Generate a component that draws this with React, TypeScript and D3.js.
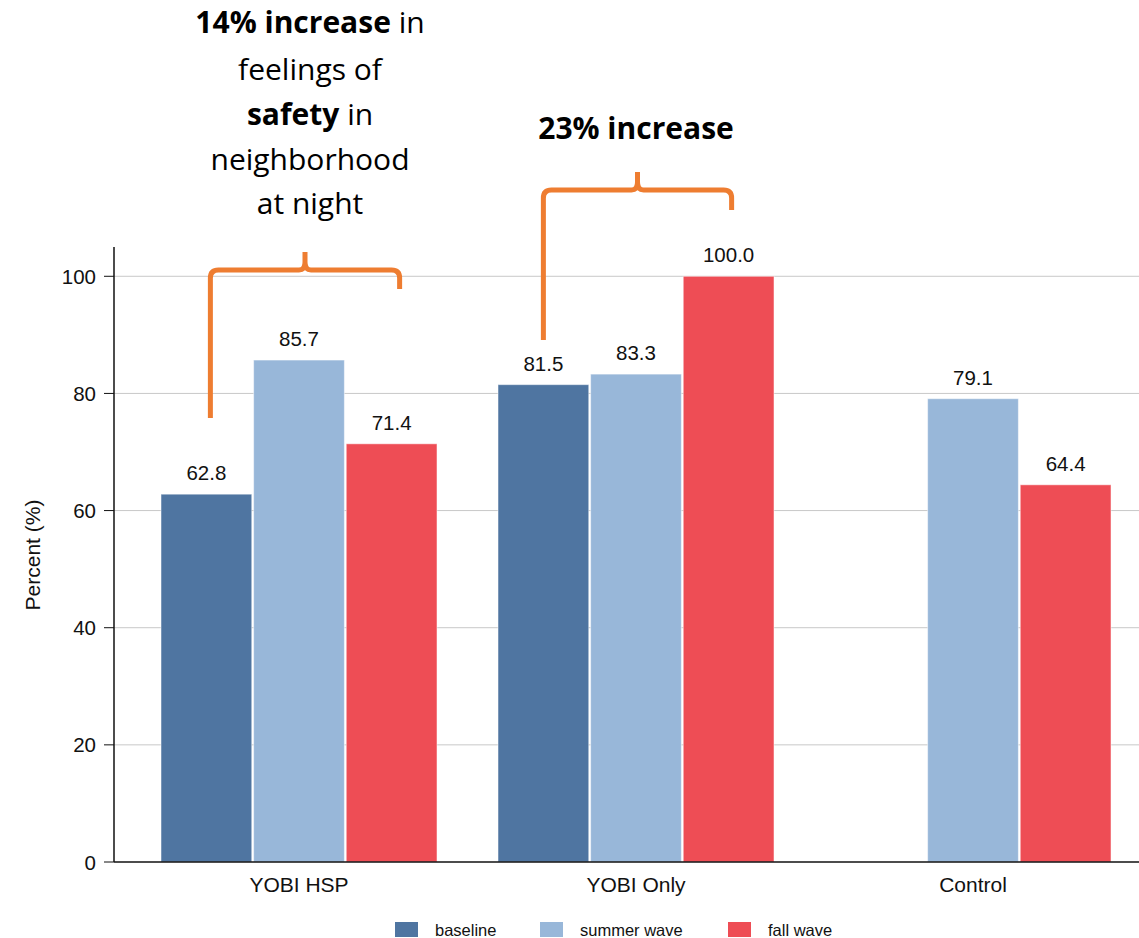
import React from "react";
import * as d3 from "d3";

const groups = ["YOBI HSP", "YOBI Only", "Control"];
const seriesNames = ["baseline", "summer wave", "fall wave"];
const baseline: (number | null)[] = [62.8, 81.5, null];
const summerWave: (number | null)[] = [85.7, 83.3, 79.1];
const fallWave: (number | null)[] = [71.4, 100.0, 64.4];
const yTicks = [0, 20, 40, 60, 80, 100];
const colors = ["#4F75A1", "#98B7D9", "#EE4D55"];

const W = 1139;
const H = 938;

export default function App() {
  const left = 114;
  const right = 1139;
  const y = d3.scaleLinear().domain([0, 105]).range([862, 247]);
  const step = 337;
  const x0 = d3
    .scaleBand<string>()
    .domain(groups)
    .range([161 - 0.181 * step, 161 - 0.181 * step + step * 3.181])
    .paddingInner(0.181)
    .paddingOuter(0.181);
  const x1 = d3
    .scaleBand<string>()
    .domain(seriesNames)
    .range([0, x0.bandwidth()])
    .paddingInner(0.02);
  const series = [baseline, summerWave, fallWave];
  const sans = "'Liberation Sans', Arial, Helvetica, sans-serif";
  const annoFont = "'Open Sans', Lato, sans-serif";
  const orange = "#EE7D31";

  const barCenter = (gi: number, si: number) =>
    (x0(groups[gi]) as number) + (x1(seriesNames[si]) as number) + x1.bandwidth() / 2;

  const brace = (xl: number, xr: number, yh: number, armBottomL: number, armBottomR: number) => {
    const xm = (xl + xr) / 2;
    const r = 8;
    return `M${xl},${armBottomL} L${xl},${yh + r} Q${xl},${yh} ${xl + r},${yh} L${xm - 6},${yh} Q${xm},${yh} ${xm},${yh - 8} L${xm},${yh - 18} M${xm},${yh - 8} Q${xm},${yh} ${xm + 6},${yh} L${xr - r},${yh} Q${xr},${yh} ${xr},${yh + r} L${xr},${armBottomR}`;
  };

  const b1L = barCenter(0, 0) + 4;
  const b1R = barCenter(0, 2) + 8;
  const b2L = barCenter(1, 0);
  const b2R = barCenter(1, 2) + 3;

  return (
    <svg width={W} height={H} style={{ position: "absolute", left: 0, top: 0, background: "#fff" }}>
      {yTicks.filter((t) => t > 0).map((t) => (
        <line key={"g" + t} x1={left} x2={right} y1={y(t)} y2={y(t)} stroke="#c8c8c8" strokeWidth={1} />
      ))}
      {groups.map((g, gi) =>
        series.map((s, si) => {
          const v = s[gi];
          if (v == null) return null;
          const bx = (x0(g) as number) + (x1(seriesNames[si]) as number);
          return (
            <g key={g + si}>
              <rect
                x={bx}
                y={y(v)}
                width={x1.bandwidth()}
                height={y(0) - y(v)}
                fill={colors[si]}
                stroke="#ffffff"
                strokeOpacity={0.5}
                strokeWidth={1}
              />
              <text
                x={bx + x1.bandwidth() / 2}
                y={y(v) - 14}
                textAnchor="middle"
                fontFamily={sans}
                fontSize={20.5}
                fill="#111"
              >
                {v.toFixed(1)}
              </text>
            </g>
          );
        })
      )}
      <line x1={left} x2={left} y1={247} y2={y(0)} stroke="#111" strokeWidth={1.5} />
      <line x1={left} x2={right} y1={y(0)} y2={y(0)} stroke="#111" strokeWidth={1.5} />
      {yTicks.map((t) => (
        <g key={"t" + t}>
          <line x1={104} x2={left} y1={y(t)} y2={y(t)} stroke="#111" strokeWidth={1} />
          <text x={96} y={y(t) + 7.5} textAnchor="end" fontFamily={sans} fontSize={20.5} fill="#111">
            {t}
          </text>
        </g>
      ))}
      {groups.map((g) => (
        <text
          key={"c" + g}
          x={(x0(g) as number) + x0.bandwidth() / 2}
          y={892}
          textAnchor="middle"
          fontFamily={sans}
          fontSize={21}
          fill="#111"
        >
          {g}
        </text>
      ))}
      <text
        transform={`translate(40,555) rotate(-90)`}
        textAnchor="middle"
        fontFamily={sans}
        fontSize={21}
        fill="#111"
      >
        Percent (%)
      </text>
      {seriesNames.map((n, i) => {
        const lx = [395, 540, 728][i];
        return (
          <g key={"l" + n}>
            <rect x={lx} y={922} width={23} height={15} fill={colors[i]} />
            <text x={lx + 40} y={936} fontFamily={sans} fontSize={16.5} fill="#111">
              {n}
            </text>
          </g>
        );
      })}
      <path d={brace(b1L, b1R, 270, 418, 289)} fill="none" stroke={orange} strokeWidth={5} />
      <path d={brace(b2L, b2R, 190, 340, 210)} fill="none" stroke={orange} strokeWidth={5} />
      <g fontFamily={annoFont} fontSize={30} fill="#000" textAnchor="middle">
        <text x={310} y={33}>
          <tspan fontWeight="bold">14% increase</tspan> in
        </text>
        <text x={310} y={80}>feelings of</text>
        <text x={310} y={125}>
          <tspan fontWeight="bold">safety</tspan> in
        </text>
        <text x={310} y={170}>neighborhood</text>
        <text x={310} y={214}>at night</text>
        <text x={636} y={139} fontWeight="bold">23% increase</text>
      </g>
    </svg>
  );
}
